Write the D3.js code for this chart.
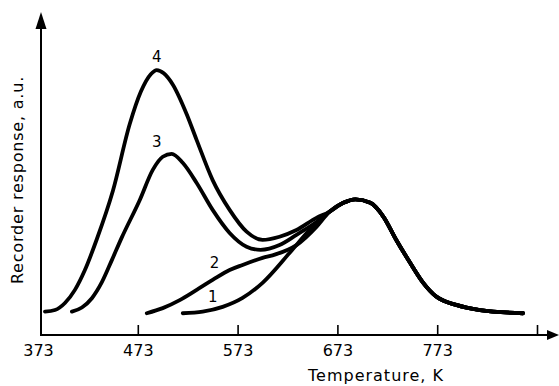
<!DOCTYPE html>
<html>
<head>
  <style>
    body { margin: 0; background: white; }
    text { font-family: "DejaVu Sans", sans-serif; fill: black; }
    .curve { fill: none; stroke: black; stroke-width: 3.8; stroke-linecap: round; stroke-linejoin: round; }
  </style>
</head>
<body>
  <script src="https://d3js.org/d3.v7.min.js"></script>
  <script>
    var width = 559, height = 386;

    // temperatures (K) and responses (a.u.)
    var tick_values = [373, 473, 573, 673, 773, 873];
    var tick_labels = ["373", "473", "573", "673", "773", ""];

    // shared high-temperature part, where all four curves meet
    var tail_t = [665, 679, 691, 706, 719, 732, 746, 759, 772, 792, 816, 859];
    var tail_v = [38.5, 41.3, 42.4, 41.3, 37, 29.7, 22.5, 16.3, 12, 9.4, 7.8, 6.8];

    var c1_t = [518, 538, 558, 578, 598, 625, 645];
    var c1_v = [6.8, 7.3, 8.8, 11.6, 16.3, 25.6, 32.8];

    var c2_t = [482, 498, 515, 532, 548, 565, 578, 598, 611, 632, 652];
    var c2_v = [6.8, 8.4, 10.9, 14.1, 17.2, 20.3, 21.9, 24.1, 25.2, 28.1, 33.8];

    var c3_t = [407, 417, 427, 437, 447, 457, 475, 488, 498, 507, 518, 532, 548, 565, 582, 596, 615, 632, 652];
    var c3_v = [7.3, 8.6, 11.5, 16.5, 23.4, 30.5, 42.2, 51.6, 55.7, 56.6, 53.8, 47.5, 39.1, 31.9, 27.6, 26.6, 28.1, 31.3, 35.3];

    var c4_t = [380, 390, 400, 410, 420, 432, 448, 465, 476, 486, 492, 499, 508, 522, 532, 548, 565, 582, 598, 615, 632, 652];
    var c4_v = [7.3, 7.8, 10, 14.1, 20.3, 30, 45, 66, 76, 81.5, 82.8, 81.8, 78.3, 69, 60.9, 48.4, 39.1, 32.3, 29.7, 30.7, 32.8, 36.6];

    var curve_names = ["1", "2", "3", "4"];
    var label_pos = [[548, 12], [550, 22.5], [492, 60.4], [492, 87]]; // [T, a.u.] of each number

    var curves = [[c1_t, c1_v], [c2_t, c2_v], [c3_t, c3_v], [c4_t, c4_v]].map(function(c) {
      var pts = c[0].map(function(t, i) { return [t, c[1][i]]; });
      return pts.concat(tail_t.map(function(t, i) { return [t, tail_v[i]]; }));
    });

    var x = d3.scaleLinear().domain([373, 873]).range([38, 537]);
    var y = d3.scaleLinear().domain([0, 100]).range([335, 15]);

    var svg = d3.select("body").append("svg")
        .attr("width", width).attr("height", height);

    var line = d3.line()
        .x(d => x(d[0]))
        .y(d => y(d[1]))
        .curve(d3.curveMonotoneX);

    svg.selectAll("path.curve")
        .data(curves)
      .enter().append("path")
        .attr("class", "curve")
        .attr("d", line);

    svg.selectAll("text.num")
        .data(curve_names)
      .enter().append("text")
        .attr("class", "num")
        .attr("x", (d, i) => x(label_pos[i][0]))
        .attr("y", (d, i) => y(label_pos[i][1]))
        .attr("text-anchor", "middle")
        .attr("dy", "0.36em")
        .style("font-size", "15px")
        .text(d => d);

    // x axis, ticks pointing up into the plot
    var xAxis = d3.axisBottom(x)
        .tickValues(tick_values)
        .tickFormat((d, i) => tick_labels[i])
        .tickSizeInner(-10)
        .tickSizeOuter(0)
        .tickPadding(10);

    var gx = svg.append("g")
        .attr("transform", "translate(0," + y(0) + ")")
        .call(xAxis);
    gx.select(".domain").remove();
    gx.selectAll(".tick line").attr("stroke", "black").attr("stroke-width", 1.6)
        .filter(d => d === 373).remove();
    gx.selectAll(".tick text")
        .attr("font-family", null).attr("font-size", null)
        .style("font-size", "16px");

    // axis lines with arrows
    var ax0 = 41;
    svg.append("line")
        .attr("x1", ax0).attr("y1", y(0)).attr("x2", 550).attr("y2", y(0))
        .attr("stroke", "black").attr("stroke-width", 2);
    svg.append("path")
        .attr("d", "M559," + y(0) + "L547," + (y(0) - 5) + "L547," + (y(0) + 5) + "Z")
        .attr("fill", "black");
    svg.append("line")
        .attr("x1", ax0).attr("y1", y(0) + 1).attr("x2", ax0).attr("y2", 24)
        .attr("stroke", "black").attr("stroke-width", 2);
    svg.append("path")
        .attr("d", "M" + ax0 + ",12L" + (ax0 - 5.5) + ",29L" + (ax0 + 5.5) + ",29Z")
        .attr("fill", "black");

    svg.append("text")
        .attr("x", 376).attr("y", 381)
        .attr("text-anchor", "middle")
        .style("font-size", "16px")
        .style("letter-spacing", "1px")
        .text("Temperature, K");

    svg.append("text")
        .attr("transform", "translate(23,180) rotate(-90)")
        .attr("text-anchor", "middle")
        .style("font-size", "16px")
        .style("letter-spacing", "0.8px")
        .text("Recorder response, a.u.");
  </script>
</body>
</html>
